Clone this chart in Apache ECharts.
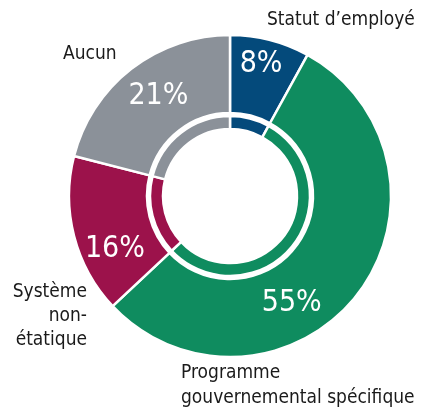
<!DOCTYPE html>
<html>
<head>
<meta charset="utf-8">
<script src="https://cdn.jsdelivr.net/npm/echarts@6/dist/echarts.min.js"></script>
<style>
  html, body { margin: 0; padding: 0; background: #fff; }
  #chart { width: 427px; height: 408px; }
</style>
</head>
<body>
<div id="chart"></div>
<script>
const categories = ['Statut d\u2019employé', 'Programme\ngouvernemental spécifique', 'Système\nnon-\nétatique', 'Aucun']
const values = [8, 55, 16, 21]
const colors = ['#044a7b', '#0f8c5f', '#9c124b', '#8b9199']

const FONT = '"Liberation Sans Narrow", "DejaVu Sans Condensed", "Noto Sans", sans-serif'

// nudges for the percentage labels, relative to the default inside position
const labelShift = [[0, -11], [-37, 31], [6, 22], [5, -1]]

const data = categories.map((name, i) => ({
  name: name,
  value: values[i],
  itemStyle: { color: colors[i] }
}))

const chart = echarts.init(document.getElementById('chart'))
chart.setOption({
  animation: false,
  series: [{
    type: 'pie',
    center: [230, 196],
    radius: [67, 80],
    startAngle: 90,
    clockwise: true,
    silent: true,
    label: { show: false },
    labelLine: { show: false },
    itemStyle: { borderColor: '#fff', borderWidth: 2.5 },
    data: data
  }, {
    type: 'pie',
    center: [230, 196],
    radius: [83, 161],
    startAngle: 90,
    clockwise: true,
    silent: true,
    itemStyle: { borderColor: '#fff', borderWidth: 2.5 },
    label: {
      show: true,
      position: 'inside',
      formatter: '{c}%',
      color: '#fff',
      fontSize: 30,
      fontFamily: FONT
    },
    labelLine: { show: false },
    labelLayout: params => ({
      dx: labelShift[params.dataIndex][0],
      dy: labelShift[params.dataIndex][1]
    }),
    data: data
  }],
  graphic: [{
    type: 'text',
    left: 267, top: 11,
    style: { text: categories[0], font: '19px ' + FONT, fill: '#1a1a1a' }
  }, {
    type: 'text',
    left: 181, top: 361,
    style: { text: categories[1], font: '19px ' + FONT, fill: '#1a1a1a', lineHeight: 25 }
  }, {
    type: 'text',
    x: 87, y: 280,
    style: {
      text: categories[2], font: '19px ' + FONT, fill: '#1a1a1a',
      lineHeight: 24, align: 'right', textAlign: 'right'
    }
  }, {
    type: 'text',
    left: 63, top: 45,
    style: { text: categories[3], font: '19px ' + FONT, fill: '#1a1a1a' }
  }]
})
</script>
</body>
</html>
